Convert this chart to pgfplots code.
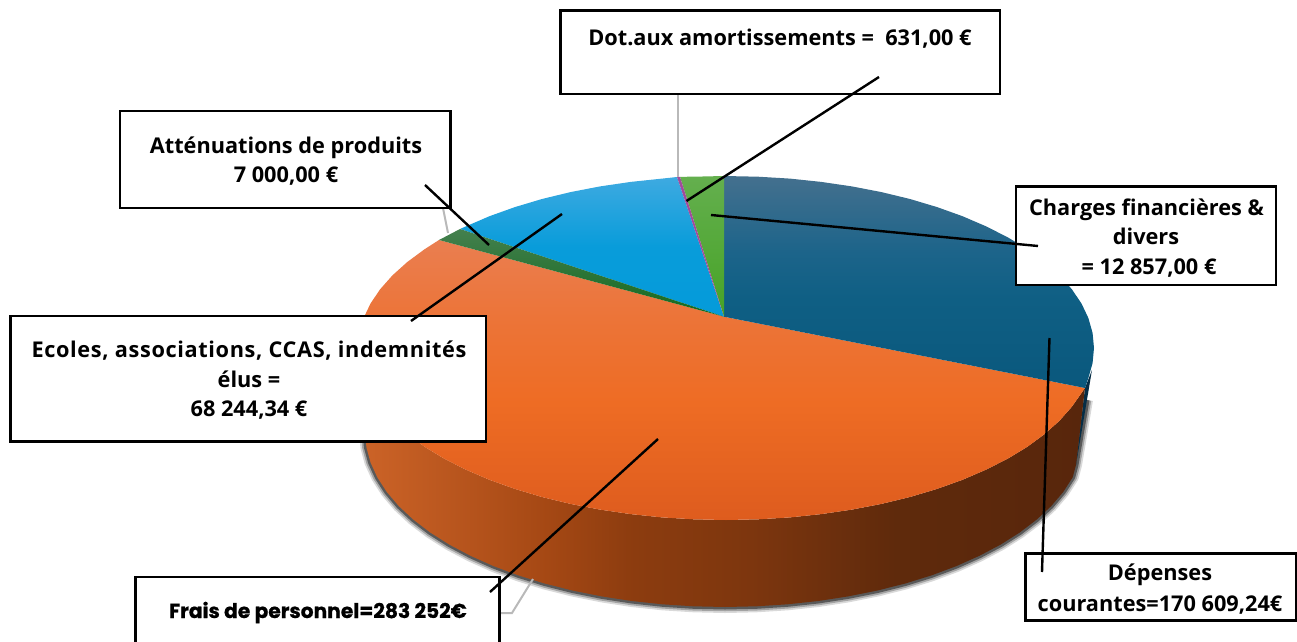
\documentclass[border=0pt]{standalone}
\usepackage{fontspec}
\setmainfont{Open Sans}
\newfontfamily\poppins[BoldFeatures={FakeBold=0.8}]{Poppins}
\usepackage{pgfplots}
\pgfplotsset{compat=1.18}
\definecolor{sa}{RGB}{205,100,40}
\definecolor{sb}{RGB}{165,72,20}
\definecolor{sc}{RGB}{140,60,15}
\definecolor{sd}{RGB}{125,54,14}
\definecolor{se}{RGB}{95,42,12}
\definecolor{sf}{RGB}{88,38,12}
\pgfdeclarehorizontalshading{orside}{100bp}{color(0bp)=(sa);color(25bp)=(sa);color(38bp)=(sb);color(44bp)=(sc);color(52bp)=(sd);color(62bp)=(se);color(75bp)=(sf);color(100bp)=(sf)}
\definecolor{oa}{RGB}{222,92,30}
\definecolor{ob}{RGB}{238,108,36}
\definecolor{oc}{RGB}{236,116,56}
\definecolor{od}{RGB}{234,126,80}
\pgfdeclareverticalshading{ortop}{100bp}{color(0bp)=(oa);color(25bp)=(oa);color(46bp)=(ob);color(61bp)=(oc);color(75bp)=(od);color(100bp)=(od)}
\definecolor{na}{RGB}{10,88,125}
\definecolor{nb}{RGB}{15,95,132}
\definecolor{nc}{RGB}{28,100,138}
\definecolor{nd}{RGB}{68,112,142}
\pgfdeclareverticalshading{natop}{100bp}{color(0bp)=(na);color(25bp)=(na);color(46bp)=(nb);color(57bp)=(nc);color(75bp)=(nd);color(100bp)=(nd)}
\definecolor{ba}{RGB}{4,155,218}
\definecolor{bb}{RGB}{8,156,218}
\definecolor{bc}{RGB}{62,170,225}
\pgfdeclareverticalshading{bltop}{100bp}{color(0bp)=(ba);color(25bp)=(ba);color(50bp)=(bb);color(75bp)=(bc);color(100bp)=(bc)}
\pgfplotstableread{
x y
1087 400
1076 465
1072.7 477.3
1063.3 491.9
1051.3 506
1036.8 519.5
1019.9 532.4
1000.8 544.5
979.6 555.7
956.4 566.1
931.5 575.4
905 583.6
877.1 590.6
848.1 596.4
818.2 601
787.5 604.3
756.4 606.3
725 607
693.6 606.3
662.5 604.3
631.8 601
601.9 596.4
572.9 590.6
545 583.6
518.5 575.4
493.6 566.1
470.4 555.7
449.2 544.5
430.1 532.4
413.2 519.5
398.7 506
386.7 491.9
377.3 477.3
370.5 462.4
366.4 447.3
365 432
}\lowerrim
\newcommand{\lab}[3]{\node[anchor=base,font=\fontsize{21.8}{26}\selectfont\bfseries,inner sep=0pt] at (axis cs:#1,#2) {#3};}
\begin{document}
\begin{tikzpicture}
\useasboundingbox (0,0) rectangle (1297bp,642bp);
\begin{axis}[at={(0,0)},anchor=south west,width=1297bp,height=642bp,scale only axis,xmin=0,xmax=1297,ymin=0,ymax=642,y dir=reverse,axis lines=none]
% shadow
\addplot[draw=black,opacity=.15,line width=12bp,line join=round] table {\lowerrim};
\addplot[draw=black,opacity=.25,line width=8.5bp,line join=round] table {\lowerrim};
\addplot[draw=black,opacity=.45,line width=5bp,line join=round] table {\lowerrim};
% side of the navy slice
\addplot[fill={rgb,255:red,5;green,45;blue,70},draw=none] coordinates {(1085,388)(1092,370)(1076,465)} --cycle;
% side of the orange slice
\addplot[draw=none,shade,shading=orside] coordinates {
(358,348)(359.4,363)(363.6,377.9)(370.5,392.5)(380.2,406.8)(392.5,420.7)(407.3,434)(424.5,446.7)(444.1,458.6)(465.8,469.6)(489.5,479.8)(514.9,488.9)(542,497)(570.5,503.9)(600.1,509.6)(630.8,514.1)(662.1,517.4)(693.9,519.3)(726,520)(758.1,519.3)(789.9,517.4)(821.2,514.1)(851.9,509.6)(881.5,503.9)(910,497)(937.1,488.9)(962.5,479.8)(986.2,469.6)(1007.9,458.6)(1027.5,446.7)(1044.7,434)(1059.5,420.7)(1071.8,406.8)(1085,388)
(1076,465)(1072.7,477.3)(1063.3,491.9)(1051.3,506)(1036.8,519.5)(1019.9,532.4)(1000.8,544.5)(979.6,555.7)(956.4,566.1)(931.5,575.4)(905,583.6)(877.1,590.6)(848.1,596.4)(818.2,601)(787.5,604.3)(756.4,606.3)(725,607)(693.6,606.3)(662.5,604.3)(631.8,601)(601.9,596.4)(572.9,590.6)(545,583.6)(518.5,575.4)(493.6,566.1)(470.4,555.7)(449.2,544.5)(430.1,532.4)(413.2,519.5)(398.7,506)(386.7,491.9)(377.3,477.3)(370.5,462.4)(366.4,447.3)(365,432)
} --cycle;
% top faces
\addplot[draw=none,shade,shading=ortop] coordinates {
(724,316.7)(439,240)(424.5,249.3)(407.3,262)(392.5,275.3)(380.2,289.2)(370.5,303.5)(363.6,318.1)(359.4,333)(358,348)(359.4,363)(363.6,377.9)(370.5,392.5)(380.2,406.8)(392.5,420.7)(407.3,434)(424.5,446.7)(444.1,458.6)(465.8,469.6)(489.5,479.8)(514.9,488.9)(542,497)(570.5,503.9)(600.1,509.6)(630.8,514.1)(662.1,517.4)(693.9,519.3)(726,520)(758.1,519.3)(789.9,517.4)(821.2,514.1)(851.9,509.6)(881.5,503.9)(910,497)(937.1,488.9)(962.5,479.8)(986.2,469.6)(1007.9,458.6)(1027.5,446.7)(1044.7,434)(1059.5,420.7)(1071.8,406.8)(1085,388)
} --cycle;
\addplot[draw=none,shade,shading=natop] coordinates {
(724,316.7)(724,176)(758.1,176.7)(789.9,178.6)(821.2,181.9)(851.9,186.4)(881.5,192.1)(910,199)(937.1,207.1)(962.5,216.2)(986.2,226.4)(1007.9,237.4)(1027.5,249.3)(1044.7,262)(1059.5,275.3)(1071.8,289.2)(1081.5,303.5)(1088.4,318.1)(1092.6,333)(1094,348)(1092.6,363)(1088.4,377.9)(1085,388)
} --cycle;
\addplot[draw=none,shade,shading=bltop] coordinates {
(724,316.7)(460,229)(465.8,226.4)(489.5,216.2)(514.9,207.1)(542,199)(570.5,192.1)(600.1,186.4)(630.8,181.9)(662.1,178.6)(677,177)
} --cycle;
\addplot[draw=none,top color={rgb,255:red,68;green,128;blue,78},middle color={rgb,255:red,30;green,110;blue,38},bottom color={rgb,255:red,20;green,105;blue,30}] coordinates {
(724,316.7)(439,240)(460,229)
} --cycle;
\addplot[draw=none,top color={rgb,255:red,100;green,175;blue,78},middle color={rgb,255:red,72;green,165;blue,42},bottom color={rgb,255:red,70;green,163;blue,38}] coordinates {
(724,316.7)(680,176.8)(693.9,176.7)(724,176)
} --cycle;
\addplot[fill={rgb,255:red,160;green,76;blue,156},draw=none] coordinates {(724,316.7)(677,177)(680,176.8)} --cycle;
% grey leaders
\addplot[draw={rgb,255:red,185;green,185;blue,185},line width=2bp] coordinates {(677.5,94)(677.5,177)};
\addplot[draw={rgb,255:red,185;green,185;blue,185},line width=2bp] coordinates {(443,208)(448,233)};
\addplot[draw={rgb,255:red,185;green,185;blue,185},line width=2bp] coordinates {(500,613)(512,613)(533,579)};
% boxes
\addplot[fill=white,draw=black,line width=2.3bp] coordinates {(560.5,10.5)(1000,10.5)(1000,94)(560.5,94)} --cycle;
\addplot[fill=white,draw=black,line width=2.3bp] coordinates {(120,111)(450.5,111)(450.5,208)(120,208)} --cycle;
\addplot[fill=white,draw=black,line width=2.3bp] coordinates {(10.5,316)(486,316)(486,441.5)(10.5,441.5)} --cycle;
\addplot[fill=white,draw=black,line width=2.3bp] coordinates {(1016,186.5)(1276,186.5)(1276,285)(1016,285)} --cycle;
\addplot[fill=white,draw=black,line width=2.3bp] coordinates {(1025.5,553.5)(1296,553.5)(1296,620.5)(1025.5,620.5)} --cycle;
\addplot[fill=white,draw=black,line width=2.3bp] coordinates {(135.5,577)(499.5,577)(499.5,660)(135.5,660)} --cycle;
% black leaders
\addplot[draw=black,line width=2.4bp] coordinates {(879,77)(686.5,201)};
\addplot[draw=black,line width=2.4bp] coordinates {(1038,246)(711,215)};
\addplot[draw=black,line width=2.4bp] coordinates {(1042,572)(1049.5,338)};
\addplot[draw=black,line width=2.4bp] coordinates {(490,592)(658,439)};
\addplot[draw=black,line width=2.4bp] coordinates {(411,321)(562,214)};
\addplot[draw=black,line width=2.4bp] coordinates {(425,185)(489,245)};
% labels
\lab{780}{46}{Dot.aux amortissements =\ \ 631,00 €}
\lab{286}{153}{Atténuations de produits}
\lab{286}{182}{7 000,00 €}
\lab{249}{357}{\addfontfeature{LetterSpace=2.9}Ecoles, associations, CCAS, indemnités}
\lab{249}{387}{élus =}
\lab{249}{416}{68 244,34 €}
\lab{1146.5}{215}{Charges financières \&}
\lab{1146}{244}{divers}
\lab{1149}{274}{= 12 857,00 €}
\lab{1160}{580}{Dépenses}
\lab{1160}{611}{courantes=170 609,24€}
\node[anchor=base,font=\fontsize{20.3}{24}\selectfont\poppins\bfseries,inner sep=0pt] at (axis cs:318,618) {Frais de personnel=283 252€};
\end{axis}
\end{tikzpicture}
\end{document}
